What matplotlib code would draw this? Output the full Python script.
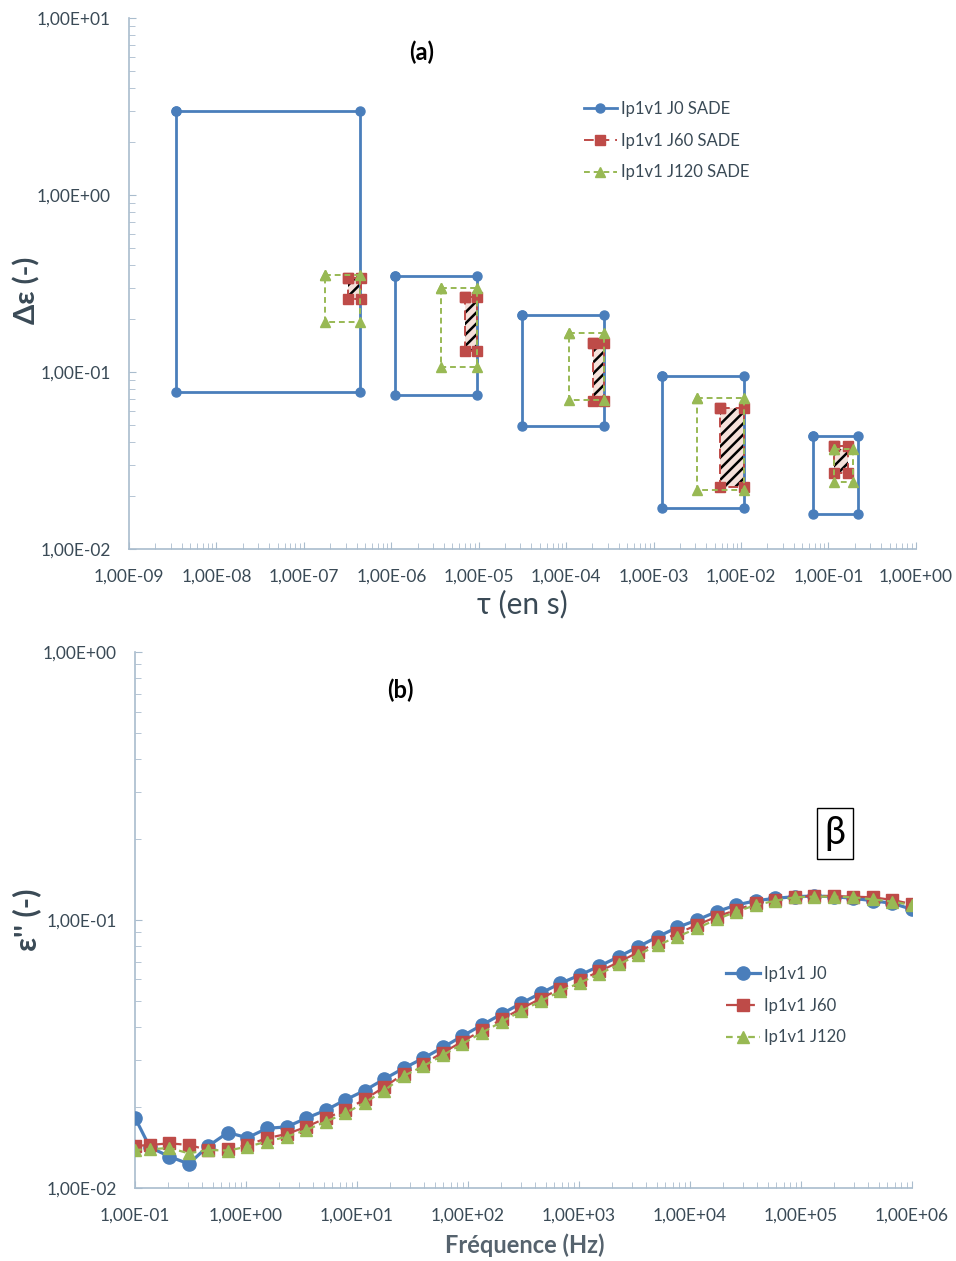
import numpy as np
import matplotlib
matplotlib.use("Agg")
import matplotlib.pyplot as plt
from matplotlib.ticker import LogLocator, FuncFormatter, NullFormatter

plt.rcParams['font.family'] = ['Lato', 'DejaVu Sans']
plt.rcParams['hatch.linewidth'] = 1.8

# ---- (a) relaxation times / strengths (rectangles per series)
j0_tau_lo = [3.4e-9, 1.1e-6, 3.1e-5, 1.25e-3, 0.067]
j0_tau_hi = [4.4e-7, 9.5e-6, 2.7e-4, 1.08e-2, 0.22]
j0_de_lo = [0.077, 0.074, 0.0496, 0.017, 0.0158]
j0_de_hi = [2.98, 0.348, 0.21, 0.095, 0.0435]

j60_tau_lo = [3.2e-7, 7.0e-6, 2.04e-4, 5.8e-3, 0.116]
j60_tau_hi = [4.5e-7, 9.5e-6, 2.7e-4, 1.09e-2, 0.169]
j60_de_lo = [0.258, 0.1315, 0.0687, 0.0224, 0.0269]
j60_de_hi = [0.34, 0.265, 0.146, 0.0627, 0.0382]

j120_tau_lo = [1.75e-7, 3.72e-6, 1.08e-4, 3.15e-3, 0.116]
j120_tau_hi = [4.4e-7, 9.5e-6, 2.7e-4, 1.09e-2, 0.192]
j120_de_lo = [0.191, 0.107, 0.0695, 0.0215, 0.0239]
j120_de_hi = [0.353, 0.298, 0.166, 0.0713, 0.0367]

tau_ticks = [1e-9, 1e-8, 1e-7, 1e-6, 1e-5, 1e-4, 1e-3, 1e-2, 1e-1, 1e0]
de_ticks = [1e-2, 1e-1, 1e0, 1e1]

# ---- (b) loss factor vs frequency
freq = [0.1, 0.136, 0.204, 0.305, 0.458, 0.687, 1.03, 1.55, 2.32, 3.48, 5.21, 7.82,
        11.7, 17.6, 26.4, 39.6, 59.4, 89.1, 134, 201, 301, 451, 677, 1015, 1522,
        2284, 3425, 5138, 7707, 11561, 17342, 26012, 39018, 58528, 87791, 131687,
        197531, 296296, 444444, 666667, 1000000]
eps_j0 = [0.0183, 0.0142, 0.0131, 0.0123, 0.01435, 0.0161, 0.0154, 0.0167, 0.0169,
          0.0182, 0.0195, 0.0213, 0.0231, 0.0255, 0.0280, 0.0305, 0.0335, 0.0369,
          0.0406, 0.0446, 0.0489, 0.0533, 0.0580, 0.0623, 0.0673, 0.0730, 0.0795,
          0.0867, 0.0939, 0.1000, 0.1074, 0.1137, 0.1180, 0.1205, 0.1222, 0.1229,
          0.1222, 0.1205, 0.1180, 0.1154, 0.1096]
eps_j60 = [0.01435, 0.01447, 0.01468, 0.01447, 0.01386, 0.01395, 0.01447, 0.01535,
           0.0159, 0.0169, 0.0182, 0.0195, 0.0214, 0.0238, 0.0267, 0.0291, 0.0320,
           0.0352, 0.0388, 0.0426, 0.0467, 0.0509, 0.0554, 0.0595, 0.0643, 0.0697,
           0.0759, 0.0830, 0.0892, 0.0958, 0.1029, 0.1090, 0.1154, 0.1188, 0.1222,
           0.1229, 0.1229, 0.1222, 0.1216, 0.1188, 0.1147]
eps_j120 = [0.01386, 0.01395, 0.0141, 0.01347, 0.01386, 0.0138, 0.01426, 0.0149,
            0.01554, 0.01645, 0.01767, 0.0190, 0.0208, 0.0231, 0.0262, 0.0285, 0.0313,
            0.0345, 0.0380, 0.0417, 0.0457, 0.0498, 0.0542, 0.0583, 0.0629, 0.0683,
            0.0743, 0.0806, 0.0867, 0.0931, 0.1006, 0.1074, 0.1137, 0.1180, 0.1216,
            0.1222, 0.1222, 0.1216, 0.1194, 0.1171, 0.1137]

freq_ticks = [1e-1, 1e0, 1e1, 1e2, 1e3, 1e4, 1e5, 1e6]
eps_ticks = [1e-2, 1e-1, 1e0]

BLUE = '#4a7ebb'
RED = '#be4b48'
GREEN = '#98b954'
TXT = '#3a4a56'
AXC = '#a9bccd'


def rect_path(lo_x, hi_x, lo_y, hi_y):
    xs, ys = [], []
    for x0, x1, y0, y1 in zip(lo_x, hi_x, lo_y, hi_y):
        xs += [x0, x1, x1, x0, x0, np.nan]
        ys += [y1, y1, y0, y0, y1, np.nan]
    return xs, ys


def sci(v, pos):
    return f"{v:.2E}".replace('.', ',')


def style_axes(ax, fs, xt, yt):
    for s in ['top', 'right']:
        ax.spines[s].set_visible(False)
    for s in ['left', 'bottom']:
        ax.spines[s].set_color(AXC)
        ax.spines[s].set_linewidth(1.2)
    ax.set_xticks(xt)
    ax.set_yticks(yt)
    ax.xaxis.set_minor_locator(LogLocator(base=10, subs=np.arange(2, 10), numticks=200))
    ax.yaxis.set_minor_locator(LogLocator(base=10, subs=np.arange(2, 10), numticks=200))
    ax.xaxis.set_major_formatter(FuncFormatter(sci))
    ax.yaxis.set_major_formatter(FuncFormatter(sci))
    ax.xaxis.set_minor_formatter(NullFormatter())
    ax.yaxis.set_minor_formatter(NullFormatter())
    ax.tick_params(which='both', direction='in', color=AXC, labelcolor=TXT, labelsize=fs)
    ax.tick_params(which='major', length=5)
    ax.tick_params(which='minor', length=4)
    ax.tick_params(axis='x', pad=14)
    ax.tick_params(axis='y', pad=13)


fig = plt.figure(figsize=(9.56, 12.61), dpi=100)

# ================= (a)
ax1 = fig.add_axes([0.135, 0.5646, 0.823, 0.4211])
ax1.set_xscale('log')
ax1.set_yscale('log')

# hatched overlap of the three series
for i in range(len(j0_tau_lo)):
    x0 = max(j0_tau_lo[i], j60_tau_lo[i], j120_tau_lo[i])
    x1 = min(j0_tau_hi[i], j60_tau_hi[i], j120_tau_hi[i])
    y0 = max(j0_de_lo[i], j60_de_lo[i], j120_de_lo[i])
    y1 = min(j0_de_hi[i], j60_de_hi[i], j120_de_hi[i])
    ax1.fill([x0, x1, x1, x0], [y0, y0, y1, y1], facecolor='#f5e1da',
             edgecolor='black', hatch='///', lw=0, zorder=1)

xs, ys = rect_path(j0_tau_lo, j0_tau_hi, j0_de_lo, j0_de_hi)
ax1.plot(xs, ys, color=BLUE, lw=2, marker='o', ms=6.5, label='Ip1v1 J0 SADE', zorder=3)
xs, ys = rect_path(j60_tau_lo, j60_tau_hi, j60_de_lo, j60_de_hi)
ax1.plot(xs, ys, color=RED, lw=1.4, ls=(0, (5, 3)), marker='s', ms=6.5,
         label='Ip1v1 J60 SADE', zorder=4)
xs, ys = rect_path(j120_tau_lo, j120_tau_hi, j120_de_lo, j120_de_hi)
ax1.plot(xs, ys, color=GREEN, lw=1.4, ls=(0, (3, 2)), marker='^', ms=6.5,
         label='Ip1v1 J120 SADE', zorder=5)

style_axes(ax1, 12.5, tau_ticks, de_ticks)
ax1.set_xlim(1e-9, 1)
ax1.set_ylim(1e-2, 10)
ax1.legend(loc='upper left', bbox_to_anchor=(0.595, 0.932), bbox_transform=fig.transFigure,
           frameon=False, fontsize=12, handlelength=2.0, handletextpad=0.25,
           labelcolor=TXT, labelspacing=0.95)

fig.text(422 / 956, 1 - 52 / 1261, '(a)', fontsize=17, fontweight='bold', ha='center', va='center')
fig.text(27 / 956, 1 - 290 / 1261, 'Δε (-)', fontsize=21, fontweight='bold', color=TXT,
         rotation=90, ha='center', va='center')
fig.text(522 / 956, 1 - 604 / 1261, 'τ (en s)', fontsize=21.5, color=TXT, ha='center', va='center')

# ================= (b)
ax2 = fig.add_axes([0.1412, 0.0579, 0.8128, 0.4250])
ax2.set_xscale('log')
ax2.set_yscale('log')
ax2.plot(freq, eps_j0, color=BLUE, lw=2.3, marker='o', ms=9.5, label='Ip1v1 J0', zorder=3)
ax2.plot(freq, eps_j60, color=RED, lw=1.6, ls=(0, (5, 3)), marker='s', ms=8.5,
         label='Ip1v1 J60', zorder=4)
ax2.plot(freq, eps_j120, color=GREEN, lw=1.6, ls=(0, (3, 2)), marker='^', ms=8.5,
         label='Ip1v1 J120', zorder=5)
style_axes(ax2, 12.5, freq_ticks, eps_ticks)
ax2.set_xlim(0.1, 1e6)
ax2.set_ylim(1e-2, 1)
ax2.legend(loc='upper left', bbox_to_anchor=(0.744, 0.246), bbox_transform=fig.transFigure,
           frameon=False, fontsize=12, handlelength=2.0, handletextpad=0.25,
           labelcolor=TXT, labelspacing=0.95)

fig.text(400 / 956, 1 - 690 / 1261, '(b)', fontsize=17, fontweight='bold', ha='center', va='center')
fig.text(835 / 956, 1 - 833 / 1261, 'β', fontsize=27, ha='center', va='center',
         bbox=dict(boxstyle='square,pad=0.2', facecolor='white', edgecolor='black', lw=1))
fig.text(27 / 956, 1 - 920 / 1261, "ε'' (-)", fontsize=22, fontweight='bold', color=TXT,
         rotation=90, ha='center', va='center')
fig.text(525 / 956, 1 - 1245 / 1261, 'Fréquence (Hz)', fontsize=17, fontweight='bold',
         color='#56636e', ha='center', va='center')

fig.savefig('out.png', dpi=100)
